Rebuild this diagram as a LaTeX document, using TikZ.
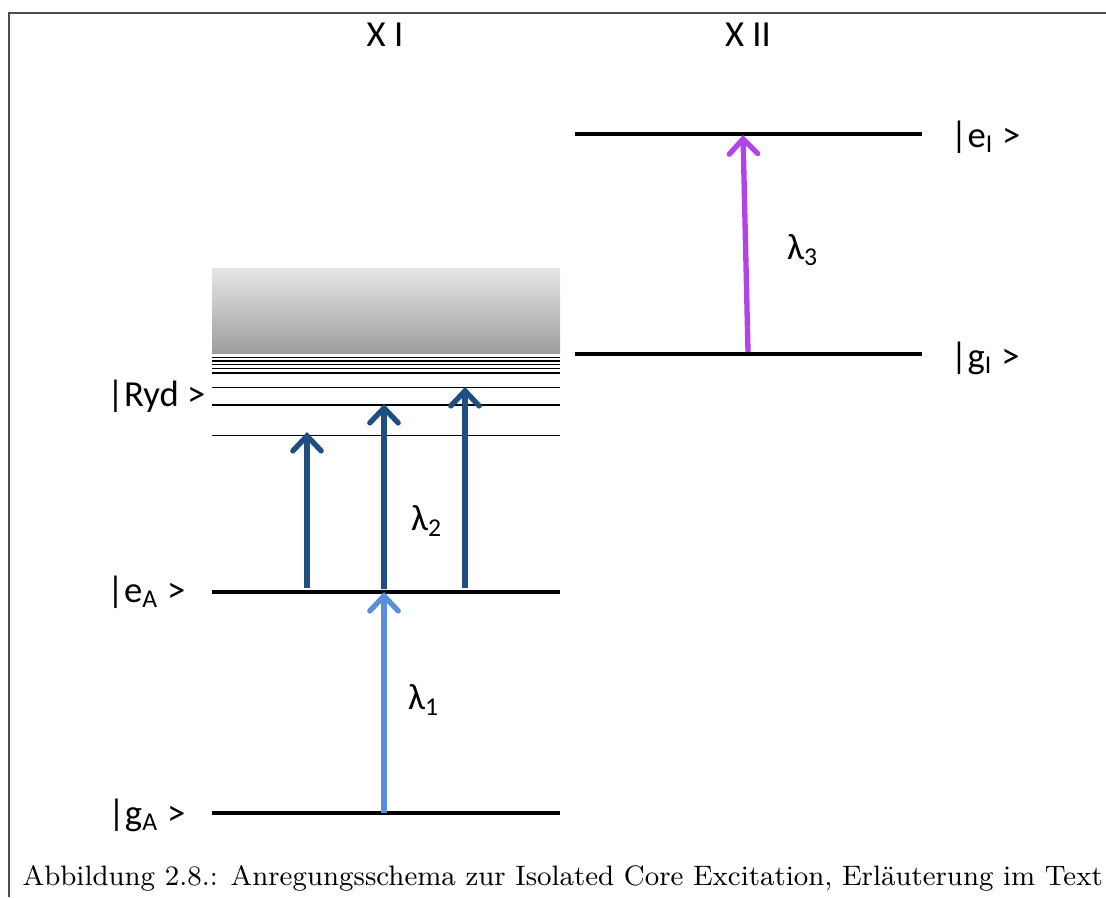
\documentclass[tikz,border=0pt]{standalone}
\usepackage{fontspec}
\newfontfamily\lblfont{Carlito}
\usetikzlibrary{arrows.meta}

\definecolor{blulight}{HTML}{5B8FD9}
\definecolor{bludark}{HTML}{1F4E80}
\definecolor{purpl}{HTML}{B343E8}

\tikzset{
	level/.style = {line width=1.3pt},
	rydline/.style = {line width=0.45pt},
	statelabel/.style = {font=\lblfont\fontsize{11}{13}\selectfont, inner sep=0pt},
	translabel/.style = {font=\lblfont\fontsize{11}{13}\selectfont, inner sep=0pt},
	trans/.style = {line width=1.6pt, -{Straight Barb[length=4.5pt,width=8.5pt,line cap=round]}},
}

\begin{document}
\begin{tikzpicture}[x=0.3pt, y=-0.3pt]
	\useasboundingbox (0,0) rectangle (1106,897);
	% frame
	\draw [line width=0.5pt, black!70] (1106,13) -- (9,13) -- (9,897);

	% species
	\node [statelabel] (xone) at (385,35) {X I};
	\node [statelabel] (xtwo) at (748,35) {X II};

	% continuum and Rydberg series
	\shade [top color=black!10, bottom color=black!38] (212,268) rectangle (560,353);
	\foreach \y in {357.5,361,364.5,368.5,373,387.5,405,435.5}
		\draw [rydline] (212,\y) -- (560,\y);

	% levels X I
	\coordinate (gAl) at (212,813); \coordinate (gAr) at (560,813);
	\coordinate (eAl) at (212,592); \coordinate (eAr) at (560,592);
	\draw [level] (gAl) -- (gAr);
	\draw [level] (eAl) -- (eAr);

	% levels X II
	\coordinate (gIl) at (575,354); \coordinate (gIr) at (922,354);
	\coordinate (eIl) at (575,134); \coordinate (eIr) at (922,134);
	\draw [level] (gIl) -- (gIr);
	\draw [level] (eIl) -- (eIr);

	% state labels
	\node [statelabel, anchor=east] (ryd) at (206,396) {|Ryd >};
	\node [statelabel, anchor=east] (eA) at (186,592) {|e\textsubscript{A} >};
	\node [statelabel, anchor=east] (gA) at (186,815) {|g\textsubscript{A} >};
	\node [statelabel, anchor=west] (eI) at (950,137) {|e\textsubscript{I} >};
	\node [statelabel, anchor=west] (gI) at (950,358) {|g\textsubscript{I} >};

	% transitions
	\coordinate (la) at (384,813); \coordinate (lb) at (384,592);
	\draw [trans, blulight] (la) -- (lb);

	\coordinate (ra) at (307,588); \coordinate (rb) at (307,432);
	\coordinate (sa) at (384,589); \coordinate (sb) at (384,404);
	\coordinate (ta) at (465,588); \coordinate (tb) at (465,387);
	\draw [trans, bludark] (ra) -- (rb);
	\draw [trans, bludark] (sa) -- (sb);
	\draw [trans, bludark] (ta) -- (tb);

	\coordinate (ia) at (748,352); \coordinate (ib) at (743,135);
	\draw [trans, purpl] (ia) -- (ib);

	\node [translabel] (lamone) at (424,700) {λ\textsubscript{1}};
	\node [translabel] (lamtwo) at (427,521) {λ\textsubscript{2}};
	\node [translabel] (lamthree) at (803,250) {λ\textsubscript{3}};

	% caption
	\node [anchor=base west, inner sep=0pt, font=\fontsize{9}{11}\selectfont] (cap) at (22,885)
		{\resizebox{324pt}{!}{Abbildung 2.8.: Anregungsschema zur Isolated Core Excitation, Erläuterung im Text}};
\end{tikzpicture}
\end{document}
